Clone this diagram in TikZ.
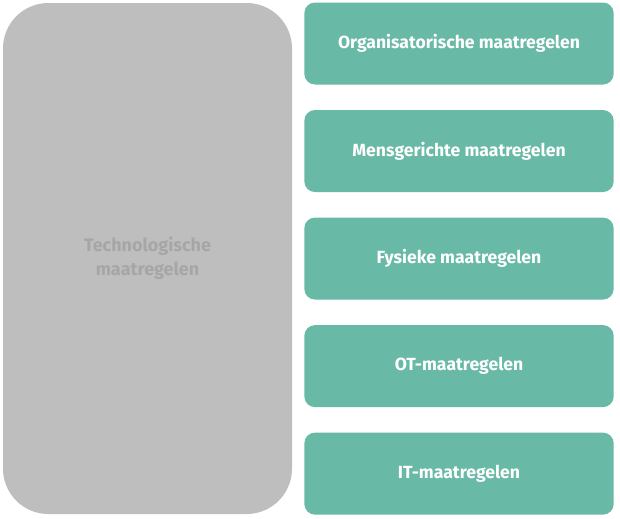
\documentclass[tikz,border=0pt]{standalone}
\usepackage{fontspec}
\setmainfont{Fira Sans}
\usepackage{tikz}
\usetikzlibrary{positioning}

\definecolor{techgray}{HTML}{BEBEBE}
\definecolor{techtext}{HTML}{A6A6A6}
\definecolor{mgreen}{HTML}{68B9A5}

\begin{document}
\begin{tikzpicture}[x=0.75pt,y=-0.75pt,node distance=18.75pt,
	tech node/.style={rectangle,rounded corners=34pt,fill=techgray,
		minimum width=216.75pt,minimum height=383.25pt,align=center,
		text=techtext,font=\bfseries\fontsize{13.5}{18}\selectfont},
	main node/.style={rectangle,rounded corners=8pt,fill=mgreen,
		minimum width=232pt,minimum height=61.5pt,
		text=white,font=\bfseries\fontsize{13.2}{16}\selectfont}]
	
	\useasboundingbox (0,0) rectangle (620,518);
	
	\node[tech node] (tech) at (147.5,258.5) {Technologische\\maatregelen};
	
	\node[main node] (org) at (459,43.5) {Organisatorische maatregelen};
	\node[main node] (mens) [below=of org] {Mensgerichte maatregelen};
	\node[main node] (fys) [below=of mens] {Fysieke maatregelen};
	\node[main node] (ot) [below=of fys] {OT-maatregelen};
	\node[main node] (it) [below=of ot] {IT-maatregelen};
	\end{tikzpicture}
\end{document}
